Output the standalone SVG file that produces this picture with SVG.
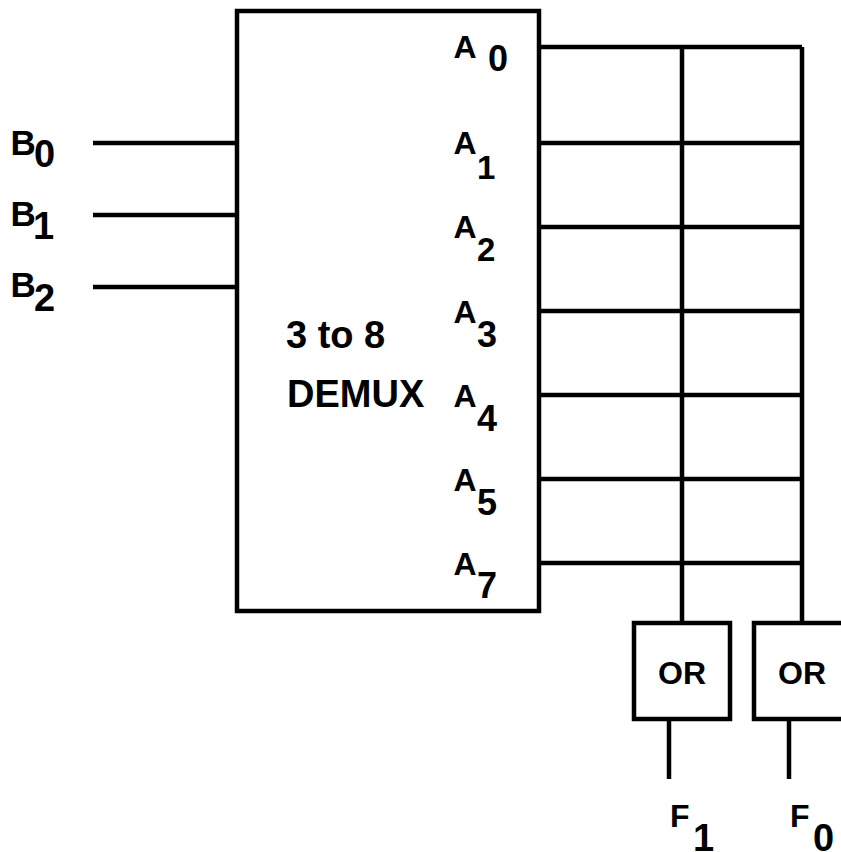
<svg xmlns="http://www.w3.org/2000/svg" width="841" height="852" viewBox="0 0 841 852">
<style>
.l{stroke:#000;stroke-width:4.5;fill:none}
.b{stroke:#000;stroke-width:4.5;fill:#fff}
text{font-family:"Liberation Sans",Arial,sans-serif;font-weight:700;fill:#000}
.s{font-size:32px}
.m{font-size:33px}
.n{font-size:36px}
.k{font-size:35px}
.j{font-size:38px}
.f{font-size:38px}
.c{font-size:38px}
.o{font-size:32px}
</style>
<rect width="841" height="852" fill="#fff"/>
<g id="connectors">
<path class="l" d="M93 143H237M93 215H237M93 287H237"/>
<path class="l" d="M539 47H802M539 143H802M539 227H802M539 311H802M539 395H802M539 479H802M539 563H802"/>
<path class="l" d="M682 47V623M802 47V623M669 719V779M789 719V779"/>
</g>
<g id="demux"><rect class="b" x="237" y="11" width="302" height="600"/>
<text class="c" x="286" y="348">3 to 8</text><text class="c" x="287" y="407">DEMUX</text></g>
<g id="or1"><rect class="b" x="634" y="623" width="96" height="96"/><text class="o" x="658" y="684">OR</text></g>
<g id="or0"><path class="b" d="M841 623H754V719H841"/><text class="o" x="778" y="684">OR</text></g>
<g id="labels">
<text class="s" x="453.5" y="58">A</text><text class="n" x="488" y="71">0</text>
<text class="s" x="453.5" y="154">A</text><text class="m" x="477" y="179">1</text>
<text class="s" x="453.5" y="238">A</text><text class="m" x="477" y="261">2</text>
<text class="s" x="453.5" y="323">A</text><text class="n" x="477" y="347">3</text>
<text class="s" x="453.5" y="407">A</text><text class="n" x="477" y="431">4</text>
<text class="s" x="453.5" y="491">A</text><text class="n" x="477" y="515">5</text>
<text class="s" x="453.5" y="575">A</text><text class="n" x="477" y="598">7</text>
<text class="k" x="10.5" y="155">B</text><text class="j" x="34" y="167">0</text>
<text class="k" x="10.5" y="226">B</text><text class="j" x="33" y="239">1</text>
<text class="k" x="10.5" y="297">B</text><text class="j" x="34" y="311">2</text>
<text class="s" x="670" y="827">F</text><text class="f" x="693" y="851">1</text>
<text class="s" x="790" y="827">F</text><text class="f" x="813" y="851">0</text>
</g>
</svg>
